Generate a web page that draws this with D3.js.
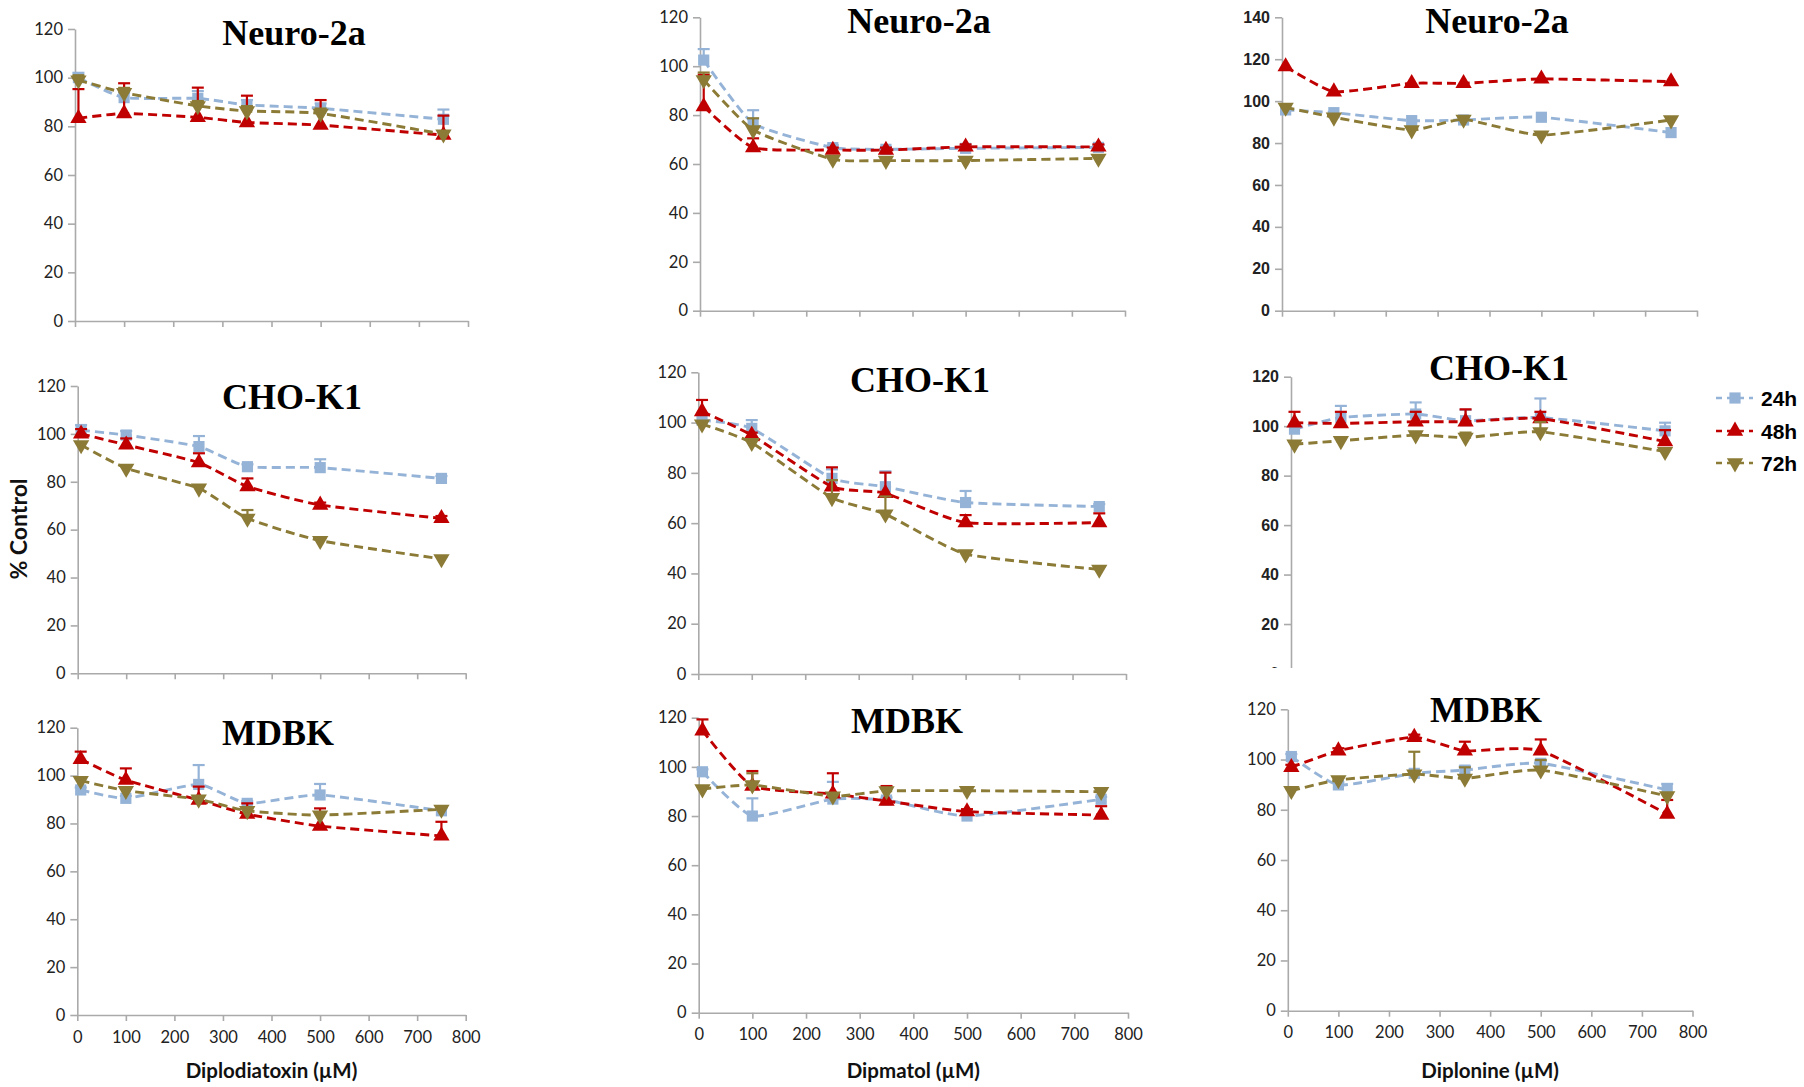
<!DOCTYPE html>
<html>
<head>
<meta charset="utf-8">
<script src="https://cdn.jsdelivr.net/npm/d3@7"></script>
<style>
  body { margin: 0; background: #fff; }
  svg { display: block; }
  .axis path, .axis line { stroke: #aaaaaa; stroke-width: 1.6px; }
  .axis text { font-family: Lato, "Open Sans", sans-serif; font-size: 16.5px; fill: #222; }
  .axis.boldticks text { font-family: "Liberation Sans", Arial, sans-serif; font-weight: bold; font-size: 16px; }
  .title { font-family: "Liberation Serif", "Times New Roman", serif; font-weight: bold; font-size: 36px; fill: #000; }
  .xlabel, .ylabel { font-family: Lato, "Open Sans", sans-serif; font-weight: bold; font-size: 20.5px; fill: #111; }
  .ylabel { font-size: 23px; }
  .legend text { font-family: "Liberation Sans", Arial, sans-serif; font-weight: bold; font-size: 21px; fill: #000; }
</style>
</head>
<body>
<div id="chart-area"></div>
<script>
var width = 1804;
var height = 1087;

// doses (µM)
var doses = [7, 100, 250, 350, 500, 750];
var seriesNames = ['24h', '48h', '72h'];
var seriesColors = ['#95b3d7', '#c00000', '#8b7b36'];
var xTicks = [0, 100, 200, 300, 400, 500, 600, 700, 800];

// Neuro-2a / Diplodiatoxin
var p1_24 = [100, 91.8, 91.5, 88.8, 87.4, 82.9];
var p1_24e = [2, 2, 3, 2, 2, 4];
var p1_48 = [83.3, 85.3, 83.7, 81.6, 80.5, 76.4];
var p1_48e = [12, 12.4, 12.2, 11, 10.3, 8];
var p1_72 = [99, 93.8, 88.4, 86.3, 85.3, 76.8];
var p1_72e = [2, 2, 2, 2, 2, 1];

// Neuro-2a / Dipmatol
var p2_24 = [102.5, 76.6, 66.7, 66, 66.4, 66.8];
var p2_24e = [4.5, 5.4, 1, 1, 1, 1];
var p2_48 = [83.5, 66.7, 65.7, 65.7, 67, 67];
var p2_48e = [13, 3.8, 1, 1, 1, 1];
var p2_72 = [94.4, 73.9, 61.9, 61.4, 61.4, 62.3];
var p2_72e = [3, 4.8, 1, 1, 1, 1];

// Neuro-2a / Diplonine
var p3_24 = [95.8, 94.5, 90.7, 91, 92.3, 85];
var p3_24e = [0, 0, 0, 0, 0, 0];
var p3_48 = [116.5, 104.5, 108.5, 108.5, 110.6, 109.3];
var p3_48e = [0, 0, 0, 0, 0, 0];
var p3_72 = [97, 92.3, 86.2, 91.3, 83.8, 91];
var p3_72e = [0, 0, 0, 0, 0, 0];

// CHO-K1 / Diplodiatoxin
var p4_24 = [101.5, 99.5, 94.7, 86.3, 85.9, 81.4];
var p4_24e = [2.2, 1.7, 4.4, 1, 3.5, 1];
var p4_48 = [100, 95.4, 88, 78, 70.3, 64.7];
var p4_48e = [2, 2.7, 3.9, 3.4, 1, 1];
var p4_72 = [95.4, 85.6, 77.3, 64.7, 55.4, 47.8];
var p4_72e = [1, 1, 1, 3.5, 1, 1];

// CHO-K1 / Dipmatol
var p5_24 = [101, 97.7, 77.8, 74.5, 68.2, 66.6];
var p5_24e = [2, 3.3, 3.6, 6.1, 4.6, 1];
var p5_48 = [104.4, 95, 74.5, 71.9, 60.2, 60.2];
var p5_48e = [4.6, 1, 7.7, 8.2, 3, 3.7];
var p5_72 = [99.4, 92, 70.1, 63.6, 47.7, 41.6];
var p5_72e = [1, 1, 7, 7, 1, 1];

// CHO-K1 / Diplonine
var p6_24 = [98.8, 103.5, 104.9, 102.2, 103.5, 98.1];
var p6_24e = [2, 4.7, 4.7, 4.4, 7.7, 3.3];
var p6_48 = [101.4, 101.1, 101.8, 101.8, 103.1, 93.8];
var p6_48e = [4.4, 4.7, 4, 5, 2.7, 4.6];
var p6_72 = [92.7, 94.1, 96.4, 95.4, 97.7, 89.7];
var p6_72e = [1, 1, 1, 2, 4, 1];

// MDBK / Diplodiatoxin
var p7_24 = [94, 90.5, 96.3, 88.4, 91.9, 85.3];
var p7_24e = [1, 1, 8.1, 1, 4.6, 1];
var p7_48 = [106.8, 98.1, 89.8, 83.9, 78.9, 74.8];
var p7_48e = [3.2, 4.9, 5.6, 4.5, 7.4, 5.9];
var p7_72 = [97.9, 93.7, 90.1, 85.3, 83.5, 85.9];
var p7_72e = [1, 1, 1, 1, 1, 1];

// MDBK / Dipmatol
var p8_24 = [98, 80, 86.9, 86.5, 80, 86.8];
var p8_24e = [1, 7.2, 7, 1, 2, 1];
var p8_48 = [114.7, 92.2, 89, 86.1, 81.8, 80.4];
var p8_48e = [4.6, 6.1, 8.4, 6.1, 1, 3.6];
var p8_72 = [91, 92.6, 88.1, 90.2, 90.3, 89.9];
var p8_72e = [1, 4.8, 1, 1, 1, 1];

// MDBK / Diplonine
var p9_24 = [101.2, 89.9, 94.5, 95.8, 98.5, 87.9];
var p9_24e = [1, 1, 1, 1.5, 1, 2.4];
var p9_48 = [96.9, 103.5, 108.9, 103.5, 103.5, 78.3];
var p9_48e = [1, 1, 1, 3.6, 4.5, 5.6];
var p9_72 = [87.6, 91.9, 94.2, 92.5, 95.8, 85.5];
var p9_72e = [1, 1, 8.9, 4.4, 4, 1];

// panel layout: x0/x1 = pixel of 0 and 800, y0/y1 = pixel of 0 and yMax
var panels = [
  {title: 'Neuro-2a', yMax: 120, x0: 75, x1: 468, y0: 321, y1: 29, tx: 294, ty: 45, s: [p1_24, p1_48, p1_72], e: [p1_24e, p1_48e, p1_72e]},
  {title: 'Neuro-2a', yMax: 120, x0: 700, x1: 1125, y0: 310.7, y1: 17.3, tx: 919, ty: 33, s: [p2_24, p2_48, p2_72], e: [p2_24e, p2_48e, p2_72e]},
  {title: 'Neuro-2a', yMax: 140, x0: 1282, x1: 1697, y0: 310.7, y1: 17.3, tx: 1497, ty: 33, bold: true, s: [p3_24, p3_48, p3_72], e: [p3_24e, p3_48e, p3_72e]},
  {title: 'CHO-K1', yMax: 120, x0: 77.7, x1: 465.7, y0: 673.3, y1: 386, tx: 292, ty: 409, s: [p4_24, p4_48, p4_72], e: [p4_24e, p4_48e, p4_72e]},
  {title: 'CHO-K1', yMax: 120, x0: 698.3, x1: 1126, y0: 674, y1: 372.3, tx: 920, ty: 392, s: [p5_24, p5_48, p5_72], e: [p5_24e, p5_48e, p5_72e]},
  {title: 'CHO-K1', yMax: 120, x0: 1291, x1: 1690, y0: 673.5, y1: 376.7, tx: 1499, ty: 380, bold: true, clip: 668, s: [p6_24, p6_48, p6_72], e: [p6_24e, p6_48e, p6_72e]},
  {title: 'MDBK', yMax: 120, x0: 77.3, x1: 465.7, y0: 1015, y1: 727.7, tx: 278, ty: 745, xLabel: 'Diplodiatoxin (µM)', s: [p7_24, p7_48, p7_72], e: [p7_24e, p7_48e, p7_72e]},
  {title: 'MDBK', yMax: 120, x0: 698.7, x1: 1128, y0: 1012.7, y1: 717.7, tx: 907, ty: 733, xLabel: 'Dipmatol (µM)', s: [p8_24, p8_48, p8_72], e: [p8_24e, p8_48e, p8_72e]},
  {title: 'MDBK', yMax: 120, x0: 1287.8, x1: 1692.5, y0: 1010.7, y1: 709.3, tx: 1486, ty: 722, xLabel: 'Diplonine (µM)', s: [p9_24, p9_48, p9_72], e: [p9_24e, p9_48e, p9_72e]}
];

var svg = d3.select('#chart-area').append('svg')
            .attr('width', width)
            .attr('height', height);

var defs = svg.append('defs');

// marker shapes
var markerSym = [d3.symbolSquare, d3.symbolTriangle, d3.symbolTriangle];
var markerRot = [0, 0, 180];
var markerSize = [125, 115, 115];

panels.forEach(function(p, pi) {
  var g = svg.append('g');
  if (p.clip) {
    defs.append('clipPath').attr('id', 'clip' + pi)
        .append('rect').attr('x', 0).attr('y', 0).attr('width', width).attr('height', p.clip);
    g.attr('clip-path', 'url(#clip' + pi + ')');
  }

  var xScale = d3.scaleLinear().domain([0, 800]).range([p.x0, p.x1]);
  var yScale = d3.scaleLinear().domain([0, p.yMax]).range([p.y0, p.y1]);

  // axes
  var yAxis = d3.axisLeft(yScale)
                .tickValues(d3.range(0, p.yMax + 1, 20))
                .tickSize(7).tickSizeOuter(0).tickPadding(5);
  g.append('g')
   .attr('class', 'axis' + (p.bold ? ' boldticks' : ''))
   .attr('transform', 'translate(' + p.x0 + ',0)')
   .call(yAxis);

  var xAxis = d3.axisBottom(xScale)
                .tickValues(xTicks)
                .tickSize(6).tickSizeOuter(0).tickPadding(10);
  if (!p.xLabel) xAxis.tickFormat('');
  g.append('g')
   .attr('class', 'axis')
   .attr('transform', 'translate(0,' + p.y0 + ')')
   .call(xAxis);

  // title
  g.append('text')
   .attr('class', 'title')
   .attr('x', p.tx).attr('y', p.ty)
   .attr('text-anchor', 'middle')
   .text(p.title);

  if (p.xLabel) {
    g.append('text')
     .attr('class', 'xlabel')
     .attr('x', (p.x0 + p.x1) / 2).attr('y', 1078)
     .attr('text-anchor', 'middle')
     .text(p.xLabel);
  }

  var line = d3.line()
               .x(function(d) { return xScale(d.x); })
               .y(function(d) { return yScale(d.y); })
               .curve(d3.curveCardinal.tension(0.5));

  p.s.forEach(function(vals, si) {
    var pts = doses.map(function(x, i) { return {x: x, y: vals[i], e: p.e[si][i]}; });
    var col = seriesColors[si];
    var sg = g.append('g');

    sg.append('path')
      .attr('d', line(pts))
      .attr('fill', 'none')
      .attr('stroke', col)
      .attr('stroke-width', 2.9)
      .attr('stroke-dasharray', '9,5');

    // plus error bars
    var eb = sg.selectAll('.err').data(pts.filter(function(d) { return d.e > 0; }))
               .enter().append('g');
    eb.append('line')
      .attr('x1', function(d) { return xScale(d.x); })
      .attr('x2', function(d) { return xScale(d.x); })
      .attr('y1', function(d) { return yScale(d.y); })
      .attr('y2', function(d) { return yScale(d.y + d.e); })
      .attr('stroke', col).attr('stroke-width', 2.2);
    eb.append('line')
      .attr('x1', function(d) { return xScale(d.x) - 6; })
      .attr('x2', function(d) { return xScale(d.x) + 6; })
      .attr('y1', function(d) { return yScale(d.y + d.e); })
      .attr('y2', function(d) { return yScale(d.y + d.e); })
      .attr('stroke', col).attr('stroke-width', 2.2);

    sg.selectAll('.mk').data(pts).enter().append('path')
      .attr('d', d3.symbol().type(markerSym[si]).size(markerSize[si]))
      .attr('transform', function(d) {
        return 'translate(' + xScale(d.x) + ',' + yScale(d.y) + ') rotate(' + markerRot[si] + ')';
      })
      .attr('fill', col);
  });
});

// y axis label
svg.append('text')
   .attr('class', 'ylabel')
   .attr('transform', 'translate(27,529) rotate(-90)')
   .attr('text-anchor', 'middle')
   .text('% Control');

// legend
var legend = svg.append('g').attr('class', 'legend');
var legY = [398, 431, 463];
seriesNames.forEach(function(name, i) {
  var lg = legend.append('g').attr('transform', 'translate(0,' + legY[i] + ')');
  lg.append('line')
    .attr('x1', 1716).attr('x2', 1753).attr('y1', 0).attr('y2', 0)
    .attr('stroke', seriesColors[i]).attr('stroke-width', 2.4)
    .attr('stroke-dasharray', '6,5');
  lg.append('path')
    .attr('d', d3.symbol().type(markerSym[i]).size(markerSize[i]))
    .attr('transform', 'translate(1735,0) rotate(' + markerRot[i] + ')')
    .attr('fill', seriesColors[i]);
  lg.append('text')
    .attr('x', 1761).attr('y', 0)
    .attr('dy', '0.36em')
    .text(name);
});
</script>
</body>
</html>
